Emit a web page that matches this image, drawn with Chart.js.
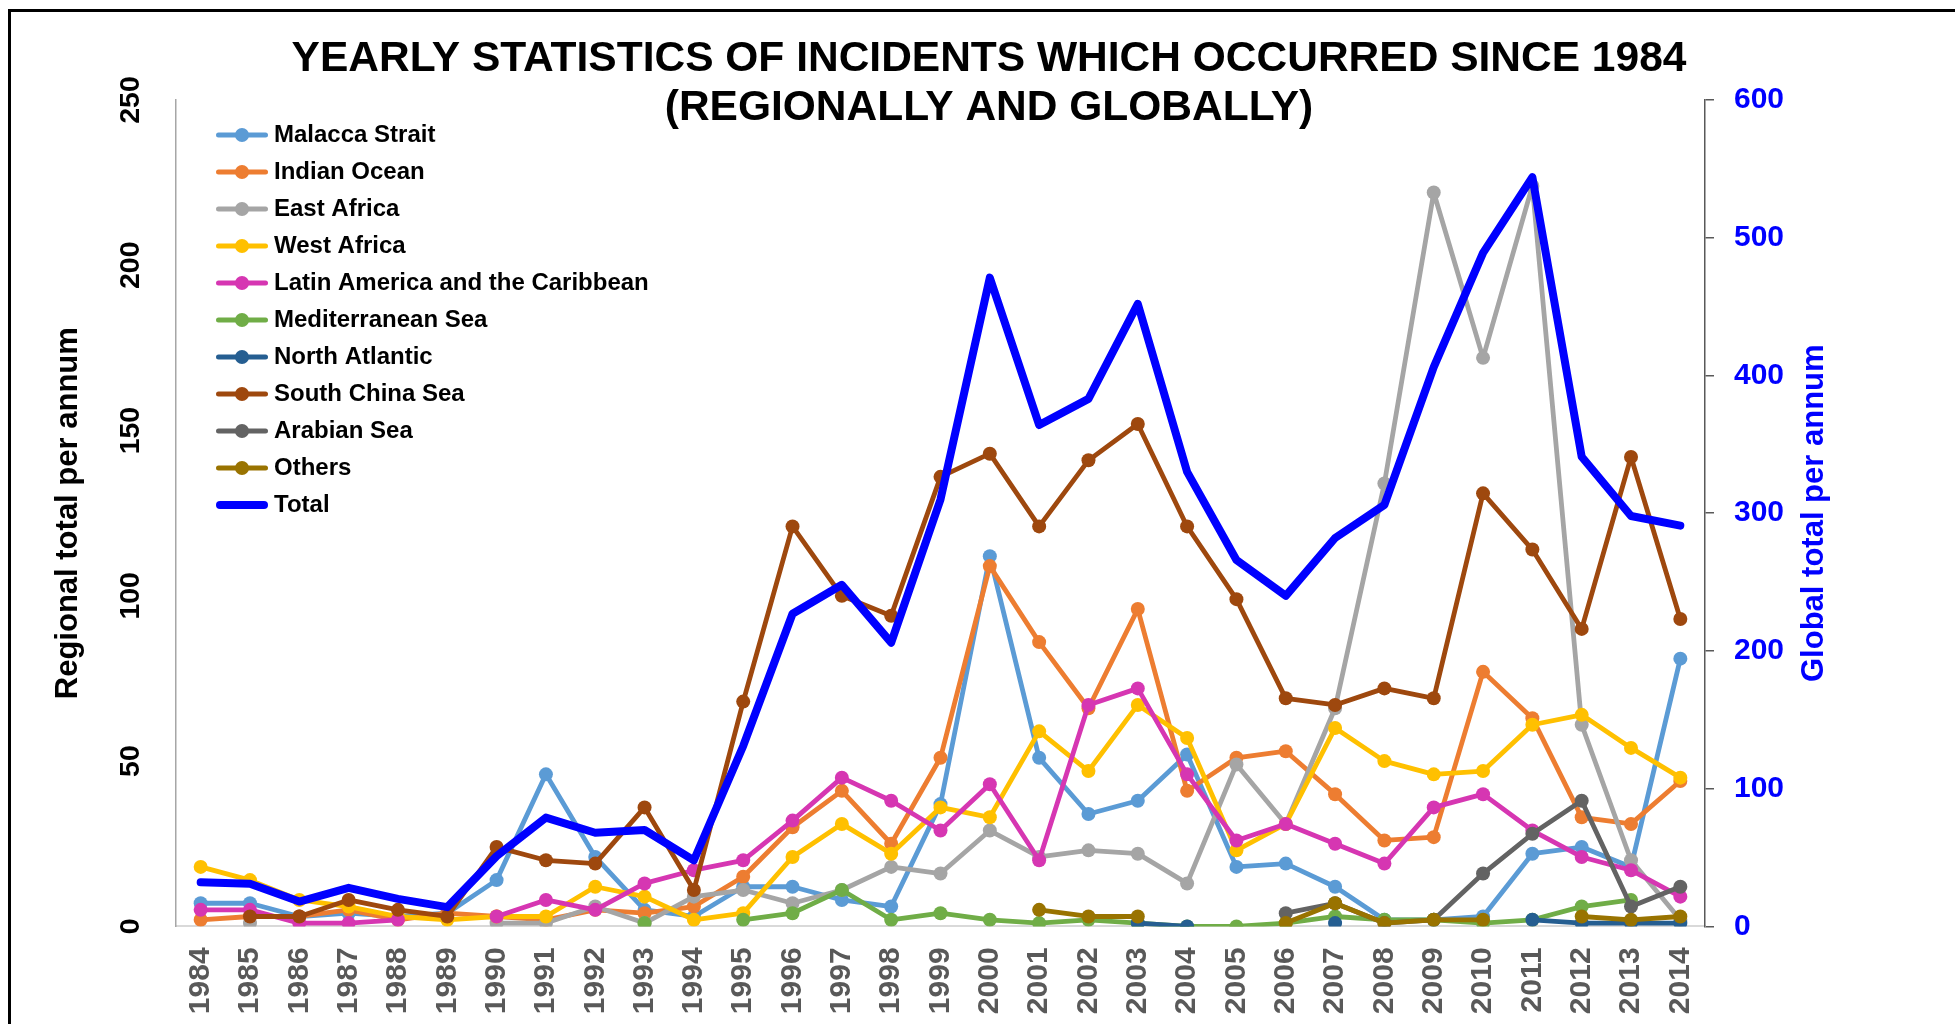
<!DOCTYPE html>
<html>
<head>
<meta charset="utf-8">
<script src="https://cdn.jsdelivr.net/npm/chart.js@4.4.1/dist/chart.umd.min.js"></script>
<style>
html,body{margin:0;padding:0;background:#fff;overflow:hidden;}
#wrap{position:relative;width:1955px;height:1024px;overflow:hidden;}
#c{position:absolute;left:0;top:0;}
#frame{position:absolute;left:8px;top:9px;width:2200px;height:1300px;border:3px solid #000;box-sizing:border-box;pointer-events:none;}
</style>
</head>
<body>
<div id="wrap"><canvas id="c" width="1955" height="1024"></canvas><div id="frame"></div></div>
<script>
const chartTitle = ['YEARLY STATISTICS OF INCIDENTS WHICH OCCURRED SINCE 1984', '(REGIONALLY AND GLOBALLY)'];
const leftAxisTitle = 'Regional total per annum';
const rightAxisTitle = 'Global total per annum';

const years = ['1984','1985','1986','1987','1988','1989','1990','1991','1992','1993','1994','1995','1996','1997','1998','1999','2000','2001','2002','2003','2004','2005','2006','2007','2008','2009','2010','2011','2012','2013','2014'];

const seriesNames = ['Malacca Strait','Indian Ocean','East Africa','West Africa','Latin America and the Caribbean','Mediterranean Sea','North Atlantic','South China Sea','Arabian Sea','Others','Total'];

const malacca = [7,7,3,4,3,4,14,46,21,5,3,12,12,8,6,37,112,51,34,38,52,18,19,12,2,2,3,22,24,18,81];
const indianOcean = [2,3,3,5,2,4,3,2,5,4,6,15,30,41,25,51,109,86,66,96,41,51,53,40,26,27,77,63,33,31,44];
const eastAfrica = [null,1,null,null,null,null,1,1,6,1,9,11,7,11,18,16,29,21,23,22,13,49,31,66,134,222,172,224,61,20,2];
const westAfrica = [18,14,8,6,3,2,3,3,12,9,2,4,21,31,22,36,33,59,47,67,57,23,31,60,50,46,47,61,64,54,45];
const latinAmerica = [5,5,1,1,2,null,3,8,5,13,17,20,32,45,38,29,43,20,67,72,46,26,31,25,19,36,40,29,21,17,9];
const mediterranean = [null,null,null,null,null,null,null,null,null,1,null,2,4,11,2,4,2,1,2,1,0,0,1,3,2,2,1,2,6,8,null];
const northAtlantic = [null,null,null,null,null,null,null,null,null,null,null,null,null,null,null,null,null,null,null,1,0,null,null,1,null,null,null,2,1,1,1];
const southChinaSea = [null,3,3,8,5,3,24,20,19,36,11,68,121,100,94,136,143,121,141,152,121,99,69,67,72,69,131,114,90,142,93];
const arabianSea = [null,null,null,null,null,null,null,null,null,null,null,null,null,null,null,null,null,null,null,null,null,null,4,7,1,2,16,28,38,6,12];
const others = [null,null,null,null,null,null,null,null,null,null,null,null,null,null,null,null,null,5,3,3,null,null,1,7,1,2,2,null,3,2,3];
const total = [32,31,18,28,20,14,51,79,68,70,48,131,227,248,206,310,471,364,383,452,330,266,240,282,306,406,489,544,341,298,291];

const colors = ['#5B9BD5','#ED7D31','#A5A5A5','#FFC000','#D636B2','#70AD47','#255E91','#9E480E','#636363','#997300','#0000FF'];
const regionalSeries = [malacca, indianOcean, eastAfrica, westAfrica, latinAmerica, mediterranean, northAtlantic, southChinaSea, arabianSea, others];

const FONT = '"Liberation Sans", Arial, Helvetica, sans-serif';
Chart.defaults.font.family = FONT;

function makeMarker(color, lineW, radius) {
  const cv = document.createElement('canvas');
  cv.width = 52; cv.height = 18;
  const g = cv.getContext('2d');
  g.strokeStyle = color; g.lineWidth = lineW; g.lineCap = 'round';
  g.beginPath(); g.moveTo(lineW / 2, 9); g.lineTo(52 - lineW / 2, 9); g.stroke();
  if (radius > 0) { g.fillStyle = color; g.beginPath(); g.arc(26, 9, radius, 0, Math.PI * 2); g.fill(); }
  return cv;
}

const datasets = regionalSeries.map((arr, i) => ({
  label: seriesNames[i],
  data: arr,
  yAxisID: 'y',
  borderColor: colors[i],
  backgroundColor: colors[i],
  borderWidth: 4.8,
  pointRadius: 7,
  pointHoverRadius: 7,
  pointBorderWidth: 0,
  pointBackgroundColor: colors[i],
  borderCapStyle: 'round',
  borderJoinStyle: 'round',
  tension: 0,
  order: 12 - i,
  legendMarker: makeMarker(colors[i], 5, 7)
}));
datasets.push({
  label: seriesNames[10],
  data: total,
  yAxisID: 'y1',
  borderColor: colors[10],
  backgroundColor: colors[10],
  borderWidth: 8,
  pointRadius: 0,
  pointHoverRadius: 0,
  borderCapStyle: 'round',
  borderJoinStyle: 'round',
  tension: 0,
  order: 1,
  legendMarker: makeMarker(colors[10], 8, 0)
});

const legendPlace = {
  id: 'legendPlace',
  afterLayout(chart) { place(chart); },
  beforeDraw(chart) { place(chart); }
};
function place(chart) {
  const l = chart.legend; if (!l) return;
  l.left = 209; l.top = 110; l.right = l.left + l.width; l.bottom = chart.chartArea.bottom;
}

const rightTitlePlugin = {
  id: 'rightTitle',
  afterDraw(chart) {
    const s = chart.scales.y1; const ctx = chart.ctx;
    ctx.save();
    ctx.translate(s.left + 109, (s.top + s.bottom) / 2);
    ctx.rotate(-Math.PI / 2);
    ctx.font = 'bold 31px ' + FONT;
    ctx.fillStyle = '#0000FF';
    ctx.textAlign = 'center'; ctx.textBaseline = 'middle';
    ctx.fillText(rightAxisTitle, 0, 0);
    ctx.restore();
  }
};

new Chart(document.getElementById('c'), {
  type: 'line',
  data: { labels: years, datasets: datasets },
  options: {
    responsive: false,
    animation: false,
    devicePixelRatio: 1,
    layout: { padding: { left: 23, top: 0, right: 0, bottom: 0 } },
    plugins: {
      tooltip: { enabled: false },
      title: {
        display: true,
        text: chartTitle,
        color: '#000',
        font: { size: 42.5, weight: 'bold', lineHeight: 1.153 },
        padding: { top: 35, bottom: -33 }
      },
      legend: {
        display: true,
        position: 'chartArea',
        align: 'start',
        labels: {
          usePointStyle: true,
          pointStyleWidth: 40,
          padding: 13,
          color: '#000',
          font: { size: 24, weight: 'bold' },
          generateLabels(chart) {
            return chart.data.datasets.map((ds, i) => ({
              text: ds.label,
              pointStyle: ds.legendMarker,
              fillStyle: ds.borderColor,
              strokeStyle: ds.borderColor,
              lineWidth: 0,
              hidden: false,
              datasetIndex: i,
              fontColor: '#000'
            }));
          }
        }
      }
    },
    scales: {
      x: {
        type: 'category',
        offset: true,
        grid: { display: false, drawTicks: false },
        border: { display: true, color: '#D9D9D9', width: 2 },
        ticks: {
          minRotation: 90, maxRotation: 90, autoSkip: false, padding: 21,
          color: '#595959', font: { size: 30, weight: 'bold' }
        },
        afterFit(s) { s.height = 97.6; }
      },
      y: {
        position: 'left',
        min: 0, max: 250,
        grid: { display: false, drawTicks: false },
        border: { display: true, color: '#A6A6A6', width: 1.5 },
        ticks: {
          stepSize: 50, minRotation: 90, maxRotation: 90, crossAlign: 'center', padding: 21,
          color: '#000', font: { size: 28.5, weight: 'bold' }
        },
        title: {
          display: true, text: leftAxisTitle, color: '#000',
          font: { size: 31, weight: 'bold' },
          padding: { top: 27, bottom: 0 }
        },
        afterFit(s) { s.width = 153; }
      },
      y1: {
        position: 'right',
        min: 0, max: 600,
        grid: { display: true, drawOnChartArea: false, drawTicks: true, tickLength: 9, color: '#595959', lineWidth: 1.5 },
        border: { display: true, color: '#595959', width: 1.5 },
        ticks: {
          stepSize: 100, padding: 20,
          color: '#0000FF', font: { size: 30, weight: 'bold' }
        },
        afterFit(s) { s.width = 250; }
      }
    }
  },
  plugins: [legendPlace, rightTitlePlugin]
});
</script>
</body>
</html>
